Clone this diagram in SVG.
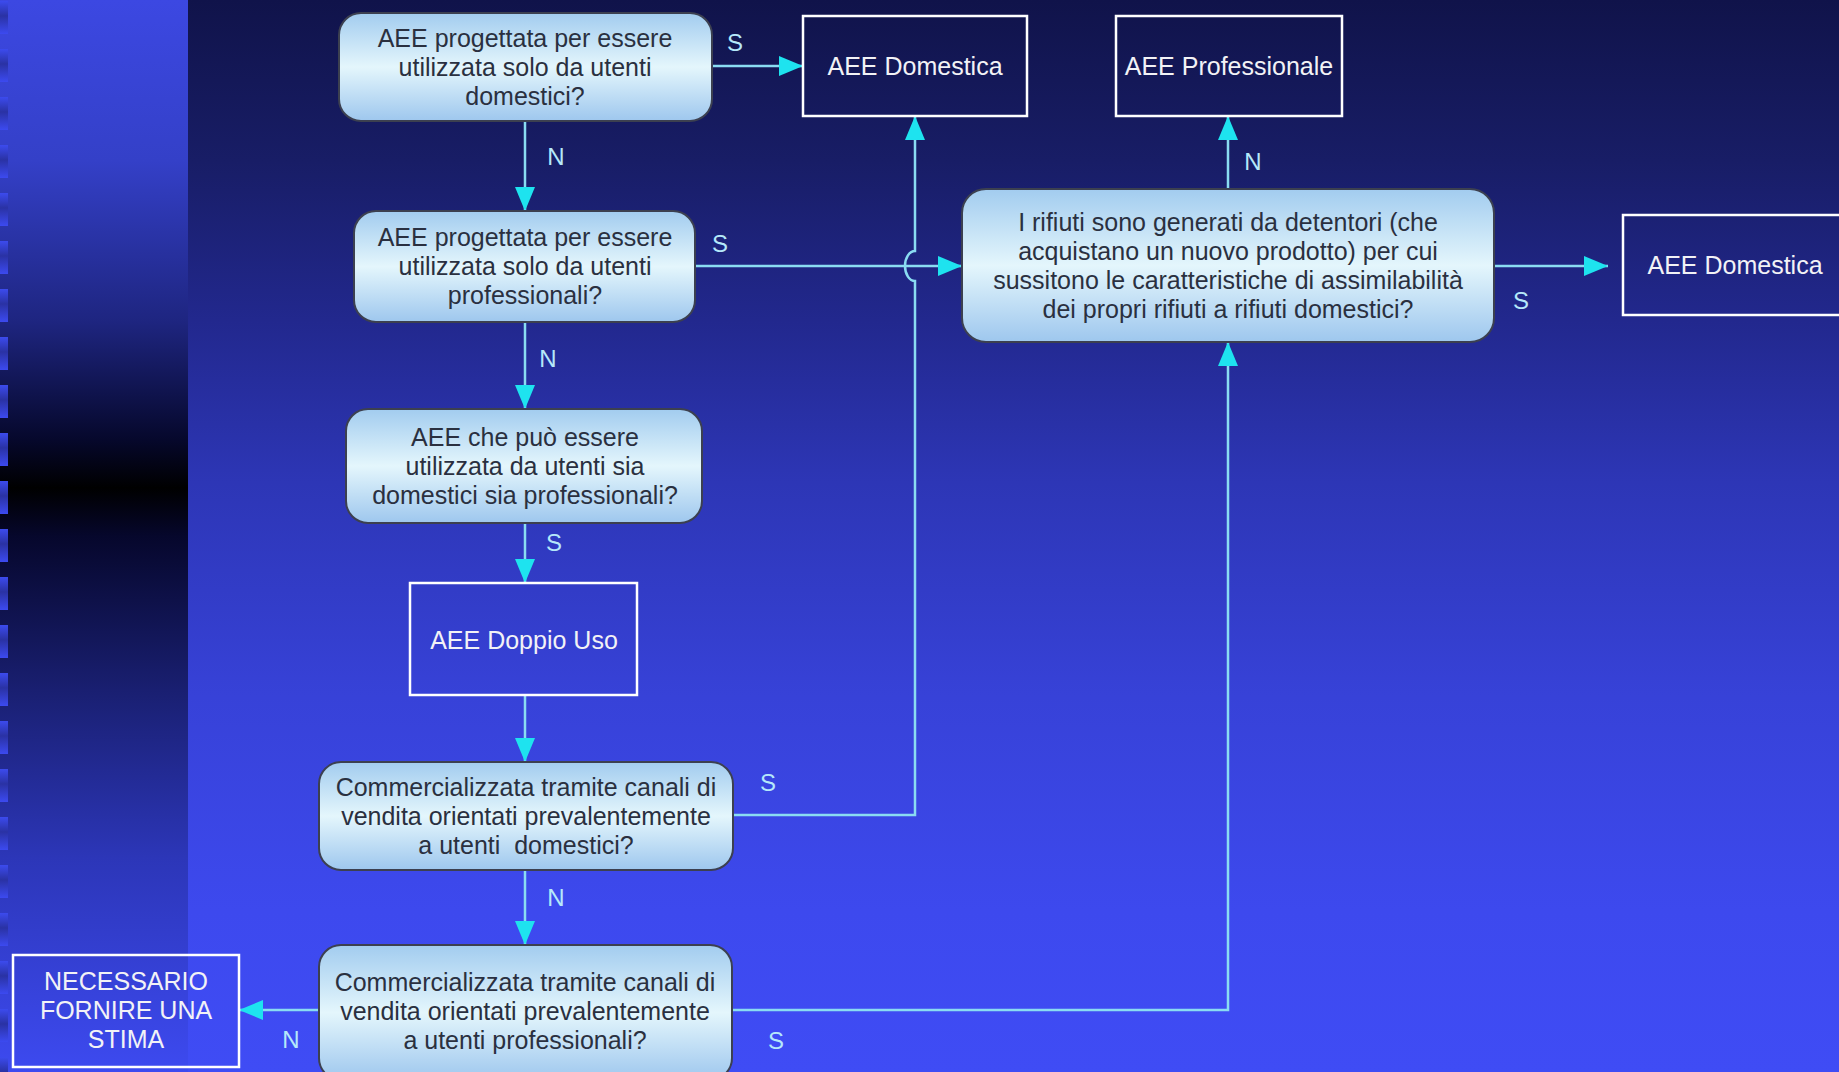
<svg xmlns="http://www.w3.org/2000/svg" width="1839" height="1072" viewBox="0 0 1839 1072">
<defs>
<linearGradient id="bgMain" x1="0" y1="0" x2="0" y2="1">
<stop offset="0" stop-color="#10134a"/>
<stop offset="0.15" stop-color="#181d66"/>
<stop offset="0.3" stop-color="#22288e"/>
<stop offset="0.45" stop-color="#2d36b6"/>
<stop offset="0.65" stop-color="#3742d8"/>
<stop offset="0.85" stop-color="#3d49ee"/>
<stop offset="1" stop-color="#3f4cf5"/>
</linearGradient>
<linearGradient id="bgStrip" x1="0" y1="0" x2="0" y2="1">
<stop offset="0" stop-color="#3c48e2"/>
<stop offset="0.15" stop-color="#3440c8"/>
<stop offset="0.3" stop-color="#1e2580"/>
<stop offset="0.41" stop-color="#06082c"/>
<stop offset="0.455" stop-color="#000000"/>
<stop offset="0.5" stop-color="#06072c"/>
<stop offset="0.65" stop-color="#1a2074"/>
<stop offset="0.8" stop-color="#2c36b8"/>
<stop offset="1" stop-color="#3d4af0"/>
</linearGradient>
<linearGradient id="bgBlock" x1="0" y1="0" x2="0" y2="1">
<stop offset="0" stop-color="#3c4bee"/>
<stop offset="0.45" stop-color="#2a32a4"/>
<stop offset="1" stop-color="#3c4af0"/>
</linearGradient>
<linearGradient id="nodeFill" x1="0" y1="0" x2="0" y2="1">
<stop offset="0" stop-color="#a2ccef"/>
<stop offset="0.5" stop-color="#e4f6fc"/>
<stop offset="1" stop-color="#9ec7ee"/>
</linearGradient>
<marker id="arr" markerUnits="userSpaceOnUse" markerWidth="24" markerHeight="20" refX="24" refY="10" orient="auto">
<path d="M0,0 L24,10 L0,20 z" fill="#1ee3ef"/>
</marker>
<style>
.q rect{fill:url(#nodeFill);stroke:#3c4050;stroke-width:2}
.q text{font-family:"Liberation Sans",Arial,sans-serif;font-size:25px;fill:#2a3040;text-anchor:middle}
.b rect{fill:none;stroke:#ffffff;stroke-width:2.5}
.b text{font-family:"Liberation Sans",Arial,sans-serif;font-size:25px;fill:#f2f2f6;text-anchor:middle}
.c path{fill:none;stroke:#8adcf2;stroke-width:2.5;marker-end:url(#arr)}
.lbl{font-family:"Liberation Sans",Arial,sans-serif;font-size:24px;fill:#b5e8fa;text-anchor:middle}
</style>
</defs>
<rect x="0" y="0" width="1839" height="1072" fill="url(#bgMain)"/>
<rect x="0" y="0" width="188" height="1072" fill="url(#bgStrip)"/>
<g fill="url(#bgBlock)">
<rect x="0" y="1" width="8" height="33"/><rect x="0" y="49" width="8" height="33"/><rect x="0" y="97" width="8" height="33"/><rect x="0" y="145" width="8" height="33"/><rect x="0" y="193" width="8" height="33"/><rect x="0" y="241" width="8" height="33"/><rect x="0" y="289" width="8" height="33"/><rect x="0" y="337" width="8" height="33"/><rect x="0" y="385" width="8" height="33"/><rect x="0" y="433" width="8" height="33"/><rect x="0" y="481" width="8" height="33"/><rect x="0" y="529" width="8" height="33"/><rect x="0" y="577" width="8" height="33"/><rect x="0" y="625" width="8" height="33"/><rect x="0" y="673" width="8" height="33"/><rect x="0" y="721" width="8" height="33"/><rect x="0" y="769" width="8" height="33"/><rect x="0" y="817" width="8" height="33"/><rect x="0" y="865" width="8" height="33"/><rect x="0" y="913" width="8" height="33"/><rect x="0" y="961" width="8" height="33"/><rect x="0" y="1009" width="8" height="33"/><rect x="0" y="1057" width="8" height="33"/>
</g>

<g id="connectors" class="c">
<path d="M712,66 H803"/>
<path d="M525,121 V211"/>
<path d="M695,266 H962"/>
<path d="M733,815 H915 V281 A10 15 0 0 1 915,251 V116"/>
<path d="M1228,189 V116"/>
<path d="M1494,266 H1608"/>
<path d="M525,322 V409"/>
<path d="M525,523 V583"/>
<path d="M525,695 V762"/>
<path d="M525,870 V945"/>
<path d="M732,1010 H1228 V342"/>
<path d="M319,1010 H239"/>
</g>

<g id="labels">
<text class="lbl" x="735" y="51">S</text>
<text class="lbl" x="556" y="165">N</text>
<text class="lbl" x="720" y="252">S</text>
<text class="lbl" x="768" y="791">S</text>
<text class="lbl" x="1253" y="170">N</text>
<text class="lbl" x="1521" y="309">S</text>
<text class="lbl" x="548" y="367">N</text>
<text class="lbl" x="554" y="551">S</text>
<text class="lbl" x="556" y="906">N</text>
<text class="lbl" x="776" y="1049">S</text>
<text class="lbl" x="291" y="1048">N</text>
</g>

<g id="q1" class="q">
<rect x="339" y="13" width="373" height="108" rx="22"/>
<text x="525" y="47">AEE progettata per essere</text>
<text x="525" y="76">utilizzata solo da utenti</text>
<text x="525" y="105">domestici?</text>
</g>
<g id="b_domestica1" class="b">
<rect x="803" y="16" width="224" height="100"/>
<text x="915" y="75">AEE Domestica</text>
</g>
<g id="b_professionale" class="b">
<rect x="1116" y="16" width="226" height="100"/>
<text x="1229" y="75">AEE Professionale</text>
</g>
<g id="q2" class="q">
<rect x="354" y="211" width="341" height="111" rx="22"/>
<text x="525" y="246">AEE progettata per essere</text>
<text x="525" y="275">utilizzata solo da utenti</text>
<text x="525" y="304">professionali?</text>
</g>
<g id="q3" class="q">
<rect x="962" y="189" width="532" height="153" rx="24"/>
<text x="1228" y="231">I rifiuti sono generati da detentori (che</text>
<text x="1228" y="260">acquistano un nuovo prodotto) per cui</text>
<text x="1228" y="289">sussitono le caratteristiche di assimilabilità</text>
<text x="1228" y="318">dei propri rifiuti a rifiuti domestici?</text>
</g>
<g id="b_domestica2" class="b">
<rect x="1623" y="215" width="230" height="100"/>
<text x="1735" y="274">AEE Domestica</text>
</g>
<g id="q4" class="q">
<rect x="346" y="409" width="356" height="114" rx="22"/>
<text x="525" y="446">AEE che può essere</text>
<text x="525" y="475">utilizzata da utenti sia</text>
<text x="525" y="504">domestici sia professionali?</text>
</g>
<g id="b_doppio" class="b">
<rect x="410" y="583" width="227" height="112"/>
<text x="524" y="649">AEE Doppio Uso</text>
</g>
<g id="q5" class="q">
<rect x="319" y="762" width="414" height="108" rx="22"/>
<text x="526" y="796">Commercializzata tramite canali di</text>
<text x="526" y="825">vendita orientati prevalentemente</text>
<text x="526" y="854" xml:space="preserve">a utenti  domestici?</text>
</g>
<g id="q6" class="q">
<rect x="319" y="945" width="413" height="135" rx="22"/>
<text x="525" y="991">Commercializzata tramite canali di</text>
<text x="525" y="1020">vendita orientati prevalentemente</text>
<text x="525" y="1049">a utenti professionali?</text>
</g>
<g id="b_stima" class="b">
<rect x="13" y="955" width="226" height="112"/>
<text x="126" y="990">NECESSARIO</text>
<text x="126" y="1019">FORNIRE UNA</text>
<text x="126" y="1048">STIMA</text>
</g>
</svg>
